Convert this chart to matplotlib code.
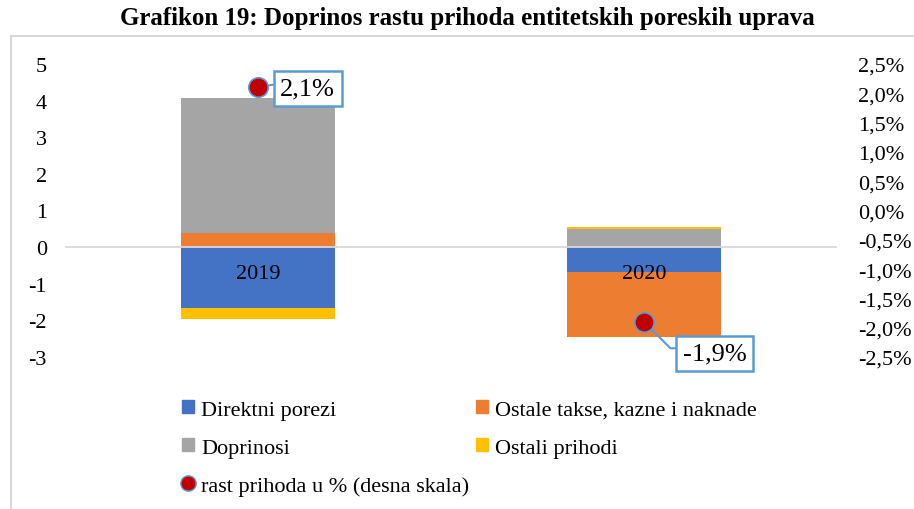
import numpy as np
import matplotlib
matplotlib.use("Agg")
import matplotlib.pyplot as plt
from matplotlib.lines import Line2D
from matplotlib.patches import Patch, Rectangle

plt.rcParams["font.family"] = ["Liberation Serif", "DejaVu Serif"]
plt.rcParams["axes.unicode_minus"] = False

# --------------------------------------------------
# DATA
# --------------------------------------------------
years = ["2019", "2020"]
direktni_porezi = [-1.66, -0.67]
ostale_takse = [0.38, -1.79]
doprinosi = [3.69, 0.49]
ostali_prihodi = [-0.31, 0.05]
rast_prihoda = [2.1, -1.9]  # %, right axis

series = [
    ("Direktni porezi", direktni_porezi, "#4472C4"),
    ("Ostale takse, kazne i naknade", ostale_takse, "#ED7D31"),
    ("Doprinosi", doprinosi, "#A5A5A5"),
    ("Ostali prihodi", ostali_prihodi, "#FFC000"),
]

left_ticks = [-3, -2, -1, 0, 1, 2, 3, 4, 5]
right_ticks = [-2.5, -2.0, -1.5, -1.0, -0.5, 0.0, 0.5, 1.0, 1.5, 2.0, 2.5]

# --------------------------------------------------
# FIGURE
# --------------------------------------------------
W, H = 914, 510
fig = plt.figure(figsize=(W / 100, H / 100), dpi=100)
fig.patches.append(Rectangle((11 / W, -0.1), 1.2, 1.1 - 37 / H,
                             transform=fig.transFigure, fill=False,
                             edgecolor="#D9D9D9", linewidth=1.5))

fig.text(0.511, 1 - 19 / H, "Grafikon 19: Doprinos rastu prihoda entitetskih poreskih uprava",
         ha="center", va="center", fontsize=18, fontweight="bold")

ax = fig.add_axes([65 / W, 1 - 358 / H, (837 - 65) / W, (358 - 65) / H])
x = np.arange(len(years))
pos_bottom = np.zeros(len(years))
neg_bottom = np.zeros(len(years))
for name, vals, color in series:
    vals = np.array(vals)
    bottom = np.where(vals >= 0, pos_bottom, neg_bottom)
    ax.bar(x, vals, width=0.4, bottom=bottom, color=color, zorder=2)
    pos_bottom += np.where(vals >= 0, vals, 0)
    neg_bottom += np.where(vals < 0, vals, 0)

ax.axhline(0, color="#D9D9D9", linewidth=1.3, zorder=3)
ax.set_xlim(-0.5, len(years) - 0.5)
ax.set_ylim(-3, 5)
ax.set_yticks(left_ticks)
ax.set_yticklabels([str(t) for t in left_ticks])
ax.set_xticks([])
ax.tick_params(axis="y", length=0, pad=13, labelsize=16)
for s in ax.spines.values():
    s.set_visible(False)

for i, yr in enumerate(years):
    ax.annotate(yr, (i, 0), xytext=(0, -12), textcoords="offset points",
                ha="center", va="top", fontsize=16, zorder=4)

ax2 = ax.twinx()
ax2.set_ylim(-2.5, 2.5)
ax2.set_yticks(right_ticks)
ax2.set_yticklabels([f"{t:.1f}%".replace(".", ",") for t in right_ticks])
ax2.tick_params(axis="y", length=0, pad=15, labelsize=16)
for s in ax2.spines.values():
    s.set_visible(False)

ax2.plot(x, rast_prihoda, linestyle="none", marker="o", markersize=14,
         markerfacecolor="#C00000", markeredgecolor="#5B9BD5",
         markeredgewidth=1.2, zorder=5)

box = dict(boxstyle="square,pad=0.25", facecolor="white",
           edgecolor="#5B9BD5", linewidth=1.8)
ax2.annotate(f"{rast_prihoda[0]:.1f}%".replace(".", ","), (x[0], rast_prihoda[0]),
             xytext=(16, -1), textcoords="offset points", ha="left", va="center",
             fontsize=19, bbox=box,
             arrowprops=dict(arrowstyle="-", color="#5B9BD5", lw=1.5,
                             shrinkA=0, shrinkB=0, relpos=(0, 0.75)))
ax2.annotate(f"{rast_prihoda[1]:.1f}%".replace(".", ","), (x[1], rast_prihoda[1]),
             xytext=(28, -23), textcoords="offset points", ha="left", va="center",
             fontsize=19, bbox=box,
             arrowprops=dict(arrowstyle="-", color="#5B9BD5", lw=1.5,
                             shrinkA=0, shrinkB=0, relpos=(0, 0.75),
                             connectionstyle="angle,angleA=0,angleB=-45,rad=0"))

# --------------------------------------------------
# LEGEND
# --------------------------------------------------
handles = [
    Patch(color=series[0][2], label=series[0][0]),
    Patch(color=series[2][2], label=series[2][0]),
    Line2D([], [], linestyle="none", marker="o", markersize=11,
           markerfacecolor="#C00000", markeredgecolor="#5B9BD5",
           label="rast prihoda u % (desna skala)"),
    Patch(color=series[1][2], label=series[1][0]),
    Patch(color=series[3][2], label=series[3][0]),
]
fig.legend(handles=handles, ncol=2, loc="upper left",
           bbox_to_anchor=(162 / W, 1 - 381 / H), frameon=False,
           fontsize=16, handlelength=0.55, handleheight=0.55,
           handletextpad=0.3, labelspacing=0.83, columnspacing=0.3)

fig.savefig("out.png", dpi=100)
